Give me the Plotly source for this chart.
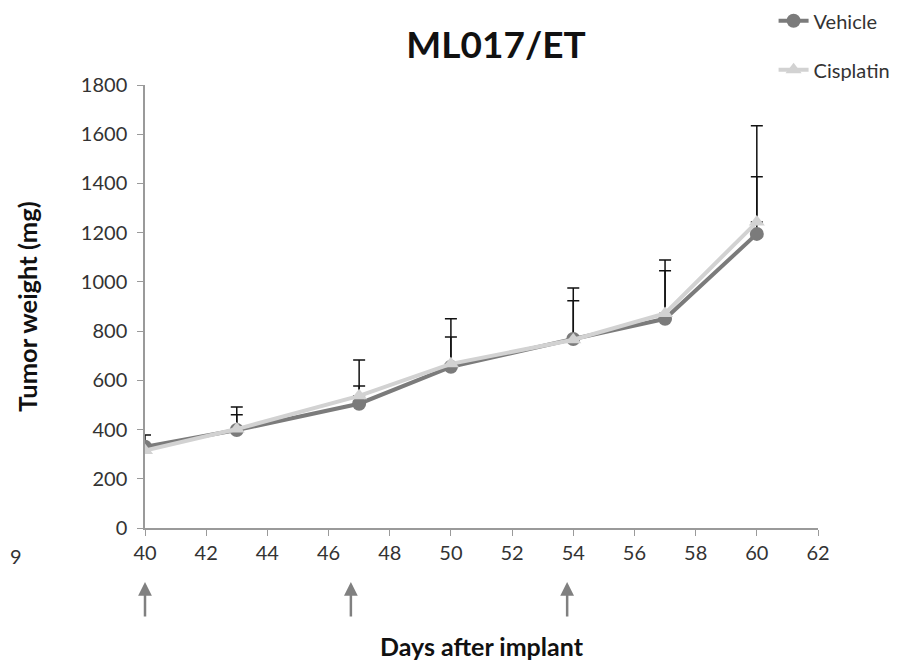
import plotly.graph_objects as go

days = [40, 43, 47, 50, 54, 57, 60]
vehicle = [330, 398, 505, 655, 768, 850, 1195]
cisplatin = [315, 402, 537, 667, 765, 872, 1243]
vehicle_err_top = [378, 460, 577, 776, 923, 1045, 1427]
cisplatin_err_top = [315, 492, 683, 850, 975, 1089, 1634]
dose_days = [40, 46.73, 53.8]
x_ticks = [40, 42, 44, 46, 48, 50, 52, 54, 56, 58, 60, 62]
y_ticks = [0, 200, 400, 600, 800, 1000, 1200, 1400, 1600, 1800]

FONT = "Lato, 'Open Sans', sans-serif"
veh_color = "#7b7b7b"
cis_color = "#d2d2d2"

veh_err = [t - v for t, v in zip(vehicle_err_top, vehicle)]
cis_err = [t - v for t, v in zip(cisplatin_err_top, cisplatin)]

fig = go.Figure()
# error bars first (beneath lines)
for vals, errs in [(vehicle, veh_err), (cisplatin, cis_err)]:
    fig.add_trace(go.Scatter(
        x=days, y=vals, mode="markers", marker=dict(opacity=0, size=1),
        error_y=dict(type="data", array=errs, arrayminus=[0]*len(errs), symmetric=False,
                     color="#111111", thickness=1.5, width=6),
        showlegend=False, hoverinfo="skip"))

fig.add_trace(go.Scatter(
    x=days, y=vehicle, name="Vehicle", mode="lines+markers", legendgroup="a",
    line=dict(color=veh_color, width=4),
    marker=dict(symbol="circle", size=14, color=veh_color)))
fig.add_trace(go.Scatter(
    x=days, y=cisplatin, name="Cisplatin", mode="lines+markers", legendgroup="b",
    line=dict(color=cis_color, width=4),
    marker=dict(symbol="triangle-up", size=14, color=cis_color)))

annotations = [
    dict(x=d, y=-0.122, xref="x", yref="paper", text="", showarrow=True,
         ax=0, ay=36, arrowhead=2, arrowsize=1.1, arrowwidth=2.5, arrowcolor="#808080")
    for d in dose_days
]
annotations.append(dict(x=-0.2035, y=-0.063, xref="paper", yref="paper", text="9",
                        showarrow=False, font=dict(family=FONT, size=20, color="#333333"),
                        xanchor="left", yanchor="middle"))

fig.update_layout(
    width=901, height=664,
    margin=dict(l=137, r=91, t=77, b=144, autoexpand=False),
    paper_bgcolor="white", plot_bgcolor="white",
    font=dict(family=FONT, color="#333333"),
    title=dict(text="<b>ML017/ET</b>", x=(488 / 901), xanchor="center", y=1 - 37 / 664,
               yanchor="middle", font=dict(family=FONT, size=37, color="#111111")),
    xaxis=dict(range=[40, 62], tickvals=x_ticks, showgrid=False, zeroline=False,
               showline=True, linecolor="#9a9a9a", linewidth=1.5,
               ticks="outside", ticklen=6, tickcolor="#9a9a9a",
               tickfont=dict(family=FONT, size=20, color="#333333"),
               title=dict(text="<b>Days after implant</b>", standoff=76,
                          font=dict(family=FONT, size=25, color="#111111"))),
    yaxis=dict(range=[0, 1800], tickvals=y_ticks, showgrid=False, zeroline=False,
               showline=True, linecolor="#9a9a9a", linewidth=1.5,
               ticks="outside", ticklen=6, tickcolor="#9a9a9a", ticklabelstandoff=6,
               tickfont=dict(family=FONT, size=20, color="#333333"),
               title=dict(text="<b>Tumor weight (mg)</b>", standoff=36,
                          font=dict(family=FONT, size=25.5, color="#111111"))),
    legend=dict(x=0.934, y=1.189, xanchor="left", yanchor="top",
                traceorder="grouped", tracegroupgap=20,
                font=dict(family=FONT, size=20, color="#333333"),
                bgcolor="rgba(0,0,0,0)"),
    annotations=annotations,
    showlegend=True,
)

fig.write_html("out.html")
